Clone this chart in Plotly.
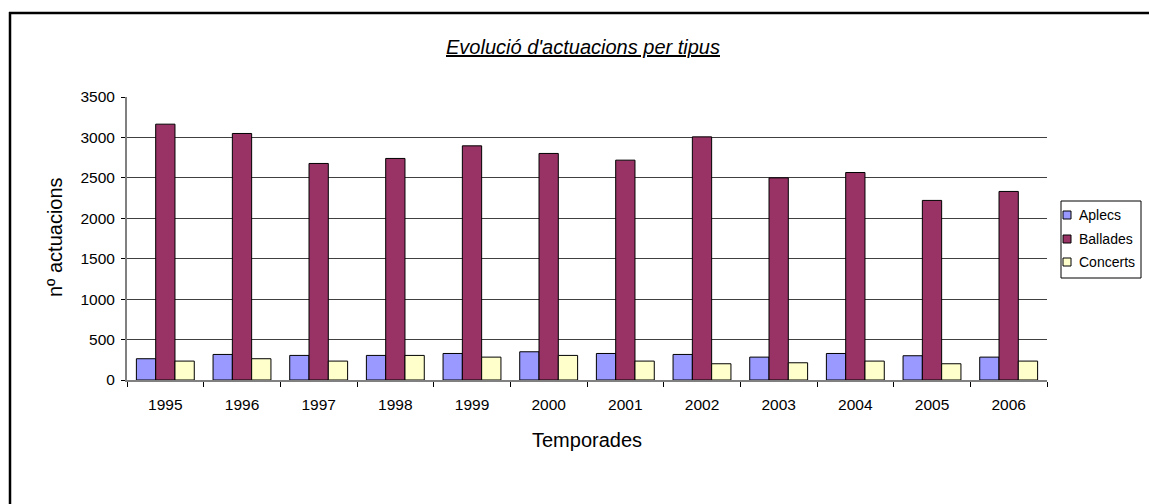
import plotly.graph_objects as go

# Seasons and number of performances per type
temporades = ["1995", "1996", "1997", "1998", "1999", "2000",
              "2001", "2002", "2003", "2004", "2005", "2006"]
aplecs = [263, 316, 304, 304, 328, 349, 328, 316, 283, 328, 300, 283]
ballades = [3164, 3049, 2678, 2740, 2896, 2802, 2719, 3007, 2500, 2566, 2221, 2332]
concerts = [234, 263, 234, 304, 283, 304, 234, 201, 213, 234, 201, 234]
y_ticks = [0, 500, 1000, 1500, 2000, 2500, 3000, 3500]

series_names = ["Aplecs", "Ballades", "Concerts"]
series_values = [aplecs, ballades, concerts]
series_colors = ["#9999FF", "#993366", "#FFFFCC"]

FONT = "Liberation Sans, Arial, sans-serif"

fig = go.Figure()
for name, vals, col in zip(series_names, series_values, series_colors):
    fig.add_trace(go.Bar(
        x=temporades, y=vals, name=name,
        marker=dict(color=col, line=dict(color="#000000", width=1)),
    ))

# page geometry in pixels
W, H = 1149, 504
L, R, T, B = 127, 1047, 97, 380
pw, ph = R - L, B - T


def px_x(p):
    return (p - L) / pw


def px_y(p):
    return (B - p) / ph


shapes = [
    # outer chart frame: left and top edges (the rest lies off the page)
    dict(type="line", xref="paper", yref="paper",
         x0=px_x(10), x1=px_x(10), y0=px_y(H), y1=px_y(12),
         line=dict(color="#000000", width=2.5), layer="above"),
    dict(type="line", xref="paper", yref="paper",
         x0=px_x(9), x1=px_x(W), y0=px_y(13), y1=px_y(13),
         line=dict(color="#000000", width=2.5), layer="above"),
    # legend box
    dict(type="rect", xref="paper", yref="paper",
         x0=px_x(1061), x1=px_x(1141), y0=px_y(278), y1=px_y(201),
         line=dict(color="#000000", width=1), fillcolor="white"),
]
annotations = [
    dict(text="nº actuacions", xref="paper", yref="paper",
         x=px_x(55), y=px_y(237), textangle=-90, showarrow=False,
         xanchor="center", yanchor="middle", font=dict(size=20)),
    dict(text="Temporades", xref="paper", yref="paper",
         x=px_x(587), y=px_y(440), showarrow=False,
         xanchor="center", yanchor="middle", font=dict(size=20)),
]

# legend entries
legend_rows = [215, 239, 262]
for name, col, yc in zip(series_names, series_colors, legend_rows):
    shapes.append(dict(type="rect", xref="paper", yref="paper",
                       x0=px_x(1063), x1=px_x(1071),
                       y0=px_y(yc + 4), y1=px_y(yc - 4),
                       fillcolor=col, line=dict(color="#000000", width=1)))
    annotations.append(dict(text=name, xref="paper", yref="paper",
                            x=px_x(1077), y=px_y(yc), showarrow=False,
                            xanchor="left", yanchor="middle",
                            font=dict(size=14)))

fig.update_layout(
    width=W, height=H,
    margin=dict(l=L, r=W - R, t=T, b=H - B),
    paper_bgcolor="white", plot_bgcolor="white",
    barmode="group", bargap=0.245, bargroupgap=0,
    font=dict(family=FONT, color="#000000", size=15.5),
    title=dict(text="<i><u>Evolució d'actuacions per tipus</u></i>",
               x=583 / W, xanchor="center", y=1 - 47 / H, yanchor="middle",
               font=dict(size=20, family=FONT)),
    showlegend=False,
    xaxis=dict(
        type="category",
        showline=True, linecolor="#808080", linewidth=2,
        ticks="outside", tickson="boundaries", ticklen=5, tickcolor="#000000",
        tickfont=dict(size=15.5), ticklabelstandoff=9,
        showgrid=False,
    ),
    yaxis=dict(
        range=[0, 3500], tickvals=y_ticks,
        showline=True, linecolor="#808080", linewidth=2,
        ticks="outside", ticklen=4, tickcolor="#000000",
        tickfont=dict(size=15.5), ticklabelstandoff=3,
        showgrid=True, gridcolor="#404040", gridwidth=1,
        zeroline=False,
    ),
    shapes=shapes,
    annotations=annotations,
)

fig.write_html("out.html")
